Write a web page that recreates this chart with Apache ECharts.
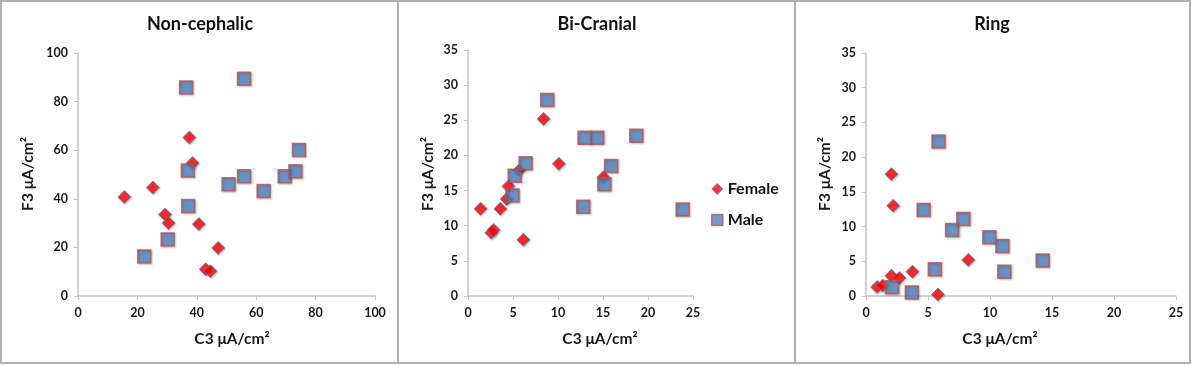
<!DOCTYPE html>
<html>
<head>
<meta charset="utf-8">
<script src="https://cdn.jsdelivr.net/npm/echarts@6/dist/echarts.min.js"></script>
<style>
  html, body { margin: 0; padding: 0; background: #fff; }
  #chart { width: 1192px; height: 365px; }
</style>
</head>
<body>
<div id="chart"></div>
<script>
// panel titles
var panelTitles = ['Non-cephalic', 'Bi-Cranial', 'Ring'];
var seriesNames = ['Female', 'Male'];

// [C3, F3] pairs
var nonCephalicFemale = [
  [15.6, 40.7], [25.2, 44.6], [29.3, 33.5], [30.5, 30.0], [37.5, 65.2],
  [38.6, 54.7], [40.7, 29.6], [47.2, 19.8], [43.0, 11.0], [44.6, 10.2]
];
var nonCephalicMale = [
  [22.3, 16.3], [30.2, 23.3], [36.4, 85.8], [37.0, 51.6], [37.1, 37.0],
  [50.7, 46.0], [55.9, 49.3], [55.9, 89.4], [62.5, 43.2], [69.6, 49.3],
  [73.2, 51.3], [74.4, 60.1]
];
var biCranialFemale = [
  [1.4, 12.4], [2.6, 9.0], [2.85, 9.4], [3.6, 12.4], [4.3, 13.8],
  [4.5, 15.6], [5.7, 17.9], [6.15, 8.0], [8.4, 25.2], [10.1, 18.8],
  [15.05, 16.9]
];
var biCranialMale = [
  [4.95, 14.3], [5.2, 17.1], [6.4, 18.9], [8.8, 27.9], [12.8, 12.7],
  [12.95, 22.5], [14.35, 22.5], [15.15, 15.9], [15.9, 18.5], [18.7, 22.8],
  [23.85, 12.3]
];
var ringFemale = [
  [0.9, 1.3], [1.35, 1.5], [2.05, 17.55], [2.2, 13.0], [2.05, 2.9],
  [2.7, 2.6], [3.75, 3.5], [5.8, 0.2], [8.25, 5.2]
];
var ringMale = [
  [2.1, 1.25], [3.7, 0.5], [5.55, 3.85], [4.65, 12.4], [5.85, 22.25],
  [6.95, 9.5], [7.85, 11.1], [9.95, 8.45], [11.0, 7.2], [11.15, 3.5],
  [14.25, 5.1]
];

// axis ranges per panel
var xMax = [100, 25, 25];
var xStep = [20, 5, 5];
var yMax = [100, 35, 35];
var yStep = [20, 5, 5];

var axisTitleX = 'C3 \u03bcA/cm\u00b2';
var axisTitleY = 'F3 \u03bcA/cm\u00b2';

var fontFam = 'Lato, "Open Sans", sans-serif';
var grids = [
  { left: 78, top: 53, width: 297, height: 243 },
  { left: 468, top: 50, width: 225, height: 246 },
  { left: 866, top: 53, width: 310, height: 243 }
];

var axisStyle = {
  axisLine: { lineStyle: { color: '#c4c4c4', width: 1.5 } },
  axisTick: { show: true, length: 4, lineStyle: { color: '#c4c4c4' } },
  splitLine: { show: false },
  axisLabel: { color: '#1a1a1a', fontFamily: fontFam, fontWeight: 'bold', fontSize: 12.5, margin: 10 }
};

var xAxes = [], yAxes = [];
for (var i = 0; i < 3; i++) {
  xAxes.push(Object.assign({ type: 'value', gridIndex: i, min: 0, max: xMax[i], interval: xStep[i] }, axisStyle));
  yAxes.push(Object.assign({ type: 'value', gridIndex: i, min: 0, max: yMax[i], interval: yStep[i] }, axisStyle));
}

var femaleStyle = {
  symbol: 'diamond', symbolSize: 13,
  itemStyle: { color: '#ff0000', borderColor: '#4f81bd', borderWidth: 1,
    shadowColor: 'rgba(0,0,0,0.25)', shadowBlur: 2, shadowOffsetX: 1, shadowOffsetY: 1 }
};
var maleStyle = {
  symbol: 'rect', symbolSize: 13,
  itemStyle: { color: '#4f81bd', borderColor: '#c0504d', borderWidth: 1.5,
    shadowColor: 'rgba(0,0,0,0.25)', shadowBlur: 2, shadowOffsetX: 1, shadowOffsetY: 1 }
};

var panelData = [
  [nonCephalicFemale, nonCephalicMale],
  [biCranialFemale, biCranialMale],
  [ringFemale, ringMale]
];
var series = [];
panelData.forEach(function (pair, idx) {
  series.push(Object.assign({ type: 'scatter', name: seriesNames[0], xAxisIndex: idx, yAxisIndex: idx, data: pair[0] }, femaleStyle));
  series.push(Object.assign({ type: 'scatter', name: seriesNames[1], xAxisIndex: idx, yAxisIndex: idx, data: pair[1] }, maleStyle));
});

// panel frames and text
var titleX = [200, 597, 992];
var xTitleX = [232, 600, 1000];
var yTitleX = [28, 428, 825];
var graphics = [
  { type: 'rect', shape: { x: 1, y: 1, width: 1189, height: 362 }, style: { fill: 'none', stroke: '#b0b0b0', lineWidth: 2 }, silent: true },
  { type: 'line', shape: { x1: 398, y1: 1, x2: 398, y2: 363 }, style: { stroke: '#b0b0b0', lineWidth: 2 }, silent: true },
  { type: 'line', shape: { x1: 795, y1: 1, x2: 795, y2: 363 }, style: { stroke: '#b0b0b0', lineWidth: 2 }, silent: true }
];
for (var p = 0; p < 3; p++) {
  graphics.push({ type: 'text', x: titleX[p], y: 24, style: { text: panelTitles[p], font: 'bold 18px ' + fontFam, fill: '#111', align: 'center', verticalAlign: 'middle' } });
  graphics.push({ type: 'text', x: xTitleX[p], y: 339, style: { text: axisTitleX, font: 'bold 15.5px ' + fontFam, fill: '#1a1a1a', align: 'center', verticalAlign: 'middle' } });
  graphics.push({ type: 'text', x: yTitleX[p], y: 174, rotation: Math.PI / 2, style: { text: axisTitleY, font: 'bold 15.5px ' + fontFam, fill: '#1a1a1a', align: 'center', verticalAlign: 'middle' } });
}

var chart = echarts.init(document.getElementById('chart'), null, { renderer: 'canvas' });
chart.setOption({
  animation: false,
  backgroundColor: '#fff',
  grid: grids,
  xAxis: xAxes,
  yAxis: yAxes,
  legend: {
    data: [
      { name: 'Female', icon: 'diamond', itemStyle: { color: '#ff0000', borderColor: '#4f81bd', borderWidth: 1 } },
      { name: 'Male', icon: 'rect', itemStyle: { color: '#4f81bd', borderColor: '#c0504d', borderWidth: 1.5 } }
    ],
    orient: 'vertical', left: 706, top: 176, itemWidth: 11, itemHeight: 11, itemGap: 15,
    textStyle: { color: '#111', fontFamily: fontFam, fontWeight: 'bold', fontSize: 16 }
  },
  graphic: graphics,
  series: series
});
</script>
</body>
</html>
